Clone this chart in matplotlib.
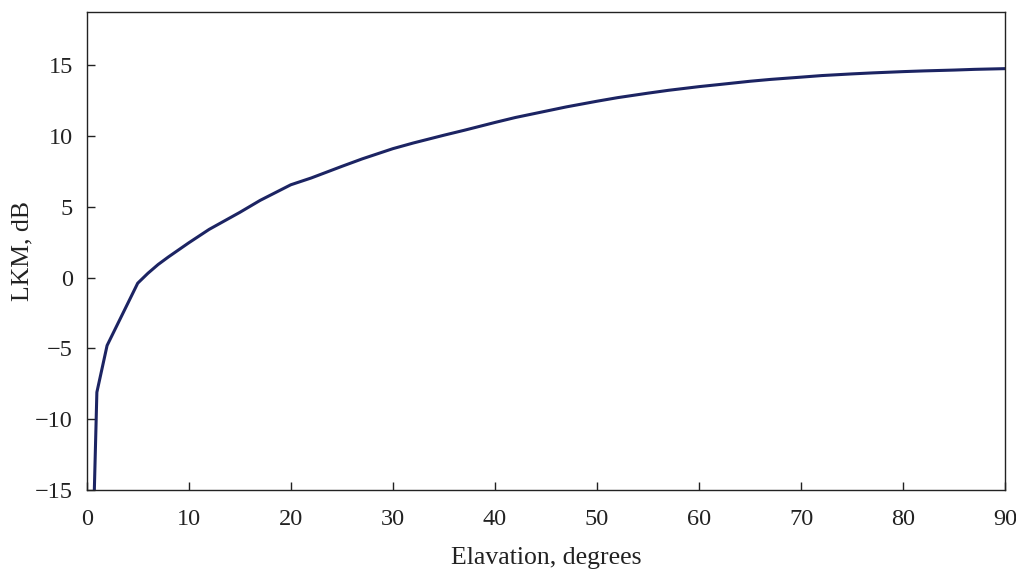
import matplotlib
matplotlib.use("Agg")
import matplotlib.pyplot as plt

elevation = [0.5, 1, 2, 5, 6, 7, 8, 9, 10, 12, 15, 17, 20, 22, 25, 27, 30, 32, 35, 37, 40, 42, 45,
             47, 50, 52, 55, 57, 60, 62, 65, 67, 70, 72, 75, 77, 80, 82, 85, 87, 90]
lkm_db = [-22.0, -8.1, -4.8, -0.4, 0.3, 0.92, 1.45, 1.95, 2.45, 3.4, 4.6, 5.45, 6.55, 7.03, 7.85,
          8.38, 9.1, 9.5, 10.05, 10.4, 10.95, 11.3, 11.75, 12.05, 12.45, 12.7, 13.02, 13.22, 13.48,
          13.63, 13.86, 13.99, 14.15, 14.26, 14.38, 14.45, 14.54, 14.59, 14.65, 14.7, 14.75]
xticks = [0, 10, 20, 30, 40, 50, 60, 70, 80, 90]
yticks = [-15, -10, -5, 0, 5, 10, 15]

plt.rcParams['font.family'] = ['Liberation Serif', 'DejaVu Serif']
plt.rcParams['axes.unicode_minus'] = True

fig = plt.figure(figsize=(10.16, 5.71), dpi=100)
ax = fig.add_axes([0.0853, 0.1419, 0.9042, 0.8371])
ax.plot(elevation, lkm_db, color='#1c2463', linewidth=2.2, solid_joinstyle='round')
ax.set_xlim(0, 90)
ax.set_ylim(-15, 18.75)
ax.set_xticks(xticks)
ax.set_yticks(yticks)
ax.tick_params(direction='in', length=6, width=1, labelsize=17.5, colors='#222222')
ax.tick_params(axis='x', pad=14)
ax.tick_params(axis='y', pad=10)
for s in ax.spines.values():
    s.set_linewidth(1.0)
    s.set_color('#222222')
ax.set_xlabel('Elavation, degrees', fontsize=18.5, color='#222222', labelpad=12)
ax.set_ylabel('LKM, dB', fontsize=18.5, color='#222222', labelpad=1)
fig.savefig('out.png', dpi=100)
